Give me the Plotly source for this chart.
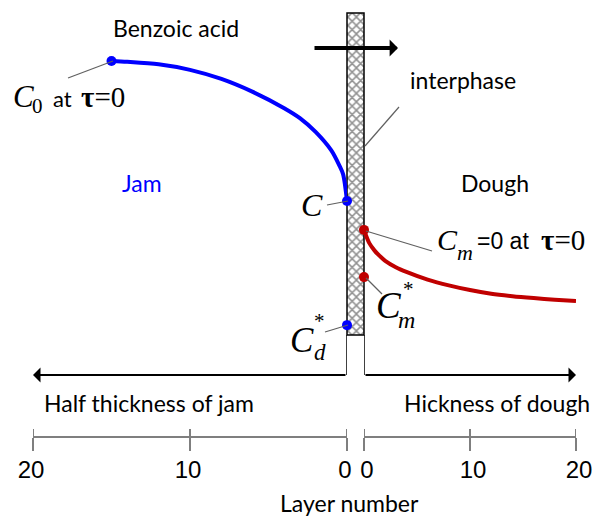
import plotly.graph_objects as go

W, H = 593, 517

# ---------------- data ----------------
jam_layers = [15, 14, 12, 10, 8, 6, 4, 3, 2, 1, 0.5, 0.25, 0]
jam_conc = [1.0, 0.997, 0.988, 0.968, 0.935, 0.888, 0.829, 0.793, 0.743, 0.676, 0.623, 0.590, 0.493]
dough_layers = [0, 0.5, 1, 1.5, 2, 3, 4, 6, 8, 10, 12, 14, 16, 18, 20]
dough_conc = [0.388, 0.340, 0.313, 0.293, 0.276, 0.253, 0.236, 0.208, 0.187, 0.170, 0.157, 0.148, 0.141, 0.135, 0.130]
jam_point_layers = [15, 0, 0]          # C0, C, Cd*
jam_point_conc = [1.0, 0.493, 0.043]
dough_point_layers = [0, 0]            # Cm=0, Cm*
dough_point_conc = [0.388, 0.217]
tick_vals = [0, 10, 20]
tick_text = ["0", "10", "20"]

BLUE = "#0000FF"
RED = "#C00000"
GREY = "#7F7F7F"
SANS = "Lato"
ARIAL = "Liberation Sans"
SERIF = "Liberation Serif"


def px(x):
    return x / W


def py(y):
    return 1 - y / H


fig = go.Figure()

# interphase layer (hatched bar) on a pixel frame axis pair
fig.add_trace(go.Bar(
    x=[355.5], y=[322], base=[13], width=[17], xaxis="x", yaxis="y",
    marker=dict(color="white",
                pattern=dict(shape="x", fgcolor="#222222", bgcolor="white", size=6, solidity=0.45),
                line=dict(color="black", width=1.5)),
    showlegend=False, hoverinfo="skip"))

# concentration profiles
fig.add_trace(go.Scatter(x=jam_layers, y=jam_conc, xaxis="x2", yaxis="y2", mode="lines",
                         line=dict(color=BLUE, width=4, shape="spline", smoothing=0.8), showlegend=False))
fig.add_trace(go.Scatter(x=dough_layers, y=dough_conc, xaxis="x3", yaxis="y3", mode="lines",
                         line=dict(color=RED, width=4, shape="spline", smoothing=0.8), showlegend=False))
fig.add_trace(go.Scatter(x=jam_point_layers, y=jam_point_conc, xaxis="x2", yaxis="y2", mode="markers",
                         marker=dict(color=BLUE, size=10), cliponaxis=False, showlegend=False))
fig.add_trace(go.Scatter(x=dough_point_layers, y=dough_point_conc, xaxis="x3", yaxis="y3", mode="markers",
                         marker=dict(color=RED, size=10), cliponaxis=False, showlegend=False))

ypos = py(437)
yr = [-180 / 276, 337 / 276]
axis_common = dict(anchor="free", position=ypos, showline=True, linecolor=GREY, linewidth=2,
                   ticks="outside", ticklen=13, tickwidth=2, tickcolor=GREY,
                   tickvals=tick_vals, ticktext=tick_text, showgrid=False, zeroline=False,
                   tickfont=dict(family=ARIAL, size=24, color="black"), ticklabelstandoff=-2,
                   automargin=False, fixedrange=True)

fig.update_layout(
    width=W, height=H, margin=dict(l=0, r=0, t=0, b=0),
    paper_bgcolor="white", plot_bgcolor="rgba(0,0,0,0)",
    xaxis=dict(domain=[0, 1], range=[0, W], visible=False, fixedrange=True),
    yaxis=dict(domain=[0, 1], range=[H, 0], visible=False, fixedrange=True),
    xaxis2=dict(domain=[px(33), px(347)], range=[20, 0], ticklabelshift=2, **axis_common),
    yaxis2=dict(domain=[0, 1], range=yr, visible=False, anchor="x2", fixedrange=True),
    xaxis3=dict(domain=[px(364), px(576)], range=[0, 20], ticklabelshift=3, **axis_common),
    yaxis3=dict(domain=[0, 1], range=yr, visible=False, anchor="x3", fixedrange=True),
    showlegend=False,
)

shapes = []
# upper tick stubs of the layer scales
for ax in ["x2", "x3"]:
    for v in tick_vals:
        shapes.append(dict(type="line", xref=ax, yref="paper", x0=v, x1=v, y0=py(437), y1=py(429),
                           line=dict(color=GREY, width=2)))
    # vertical connector from interphase down to the thickness arrows
    shapes.append(dict(type="line", xref=ax, yref="paper", x0=0, x1=0, y0=py(335), y1=py(375),
                       line=dict(color="black", width=1.5)))

# leader lines
leaders = [((68, 78), (113, 61)), ((327, 205), (348, 201)), ((325, 332), (348, 325)),
           ((432, 251), (366, 231)), ((382, 294), (366, 278)), ((399, 107), (365, 146))]
for (a, b) in leaders:
    shapes.append(dict(type="line", xref="paper", yref="paper", x0=px(a[0]), y0=py(a[1]),
                       x1=px(b[0]), y1=py(b[1]), line=dict(color="#606060", width=1.2)))
fig.update_layout(shapes=shapes)

anns = []
# thickness arrows
anns.append(dict(x=20, xref="x2", axref="x2", ax=0, y=py(375), yref="paper", ayref="pixel", ay=0,
                 text="", showarrow=True, arrowhead=1, arrowsize=1.25, arrowwidth=2, arrowcolor="black",
                 standoff=0, startstandoff=0))
anns.append(dict(x=20, xref="x3", axref="x3", ax=0, y=py(375), yref="paper", ayref="pixel", ay=0,
                 text="", showarrow=True, arrowhead=1, arrowsize=1.25, arrowwidth=2, arrowcolor="black",
                 standoff=0, startstandoff=0))
# transfer direction arrow
anns.append(dict(x=px(398), y=py(48), xref="paper", yref="paper", axref="pixel", ayref="pixel",
                 ax=-85, ay=0, text="", showarrow=True, arrowhead=1, arrowsize=0.7, arrowwidth=4,
                 arrowcolor="black", standoff=0))


def txt(text, x, y, size, family, color="black", xanchor="center", yanchor="middle"):
    anns.append(dict(text=text, x=px(x), y=py(y), xref="paper", yref="paper", showarrow=False,
                     xanchor=xanchor, yanchor=yanchor,
                     font=dict(family=family, size=size, color=color)))


txt("Benzoic acid", 176, 28, 23, SANS)
txt("interphase", 463, 80, 23, SANS)
txt("Jam", 142, 183, 23, SANS, color=BLUE)
txt("Dough", 495, 183, 23, SANS)
txt("Half thickness of jam", 42, 403, 23, SANS, xanchor="left")
txt("Hickness of dough", 592, 403, 23, SANS, xanchor="right")
txt("Layer number", 349, 503, 23, SANS)

# C0 at tau=0
txt("<i>C</i>", 11, 97, 31, SERIF, xanchor="left")
txt("0", 37, 106, 21, SERIF)
txt("at", 51, 98, 22, SANS, xanchor="left")
txt("<b>τ</b>=0", 79, 97, 29, SERIF, xanchor="left")
# C
txt("<i>C</i>", 312, 205, 32, SERIF)
# Cd*
txt("<i>C</i>", 302, 340, 35, SERIF)
txt("<i>d</i>", 320, 352, 23, SERIF)
txt("*", 319, 321, 21, SERIF)
# Cm=0 at tau=0
txt("<i>C</i>", 447, 239, 30, SERIF)
txt("<i>m</i>", 465, 252, 22, SERIF)
txt("=0 at", 475, 241, 23, ARIAL, xanchor="left")
txt("<b>τ</b>=0", 539, 240, 29, SERIF, xanchor="left")
# Cm*
txt("<i>C</i>", 389, 305, 37, SERIF)
txt("<i>m</i>", 406, 320, 24, SERIF)
txt("*", 408, 289, 21, SERIF)

fig.update_layout(annotations=anns)
fig.write_html("out.html", config={"displayModeBar": False},
               post_script="document.body.style.margin='0';")
